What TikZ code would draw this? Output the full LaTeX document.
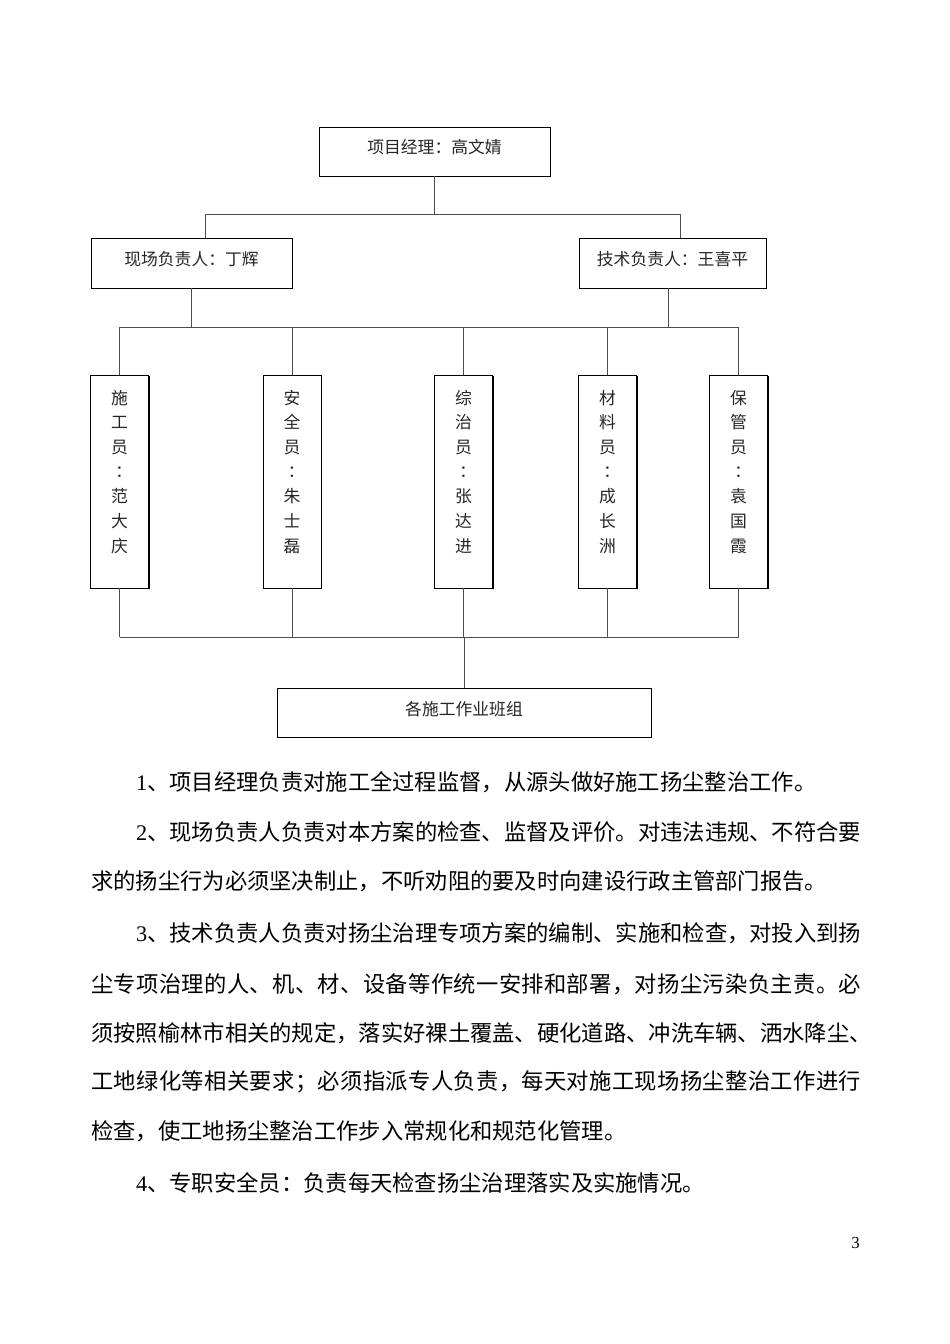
\documentclass[tikz,border=0pt]{standalone}
\usepackage{fontspec}
\setmainfont{Liberation Serif}
\newfontfamily\cjk{Noto Sans CJK SC}
\newfontfamily\cjktc{Noto Sans CJK TC}
\usetikzlibrary{shadows}
\makeatletter
\def\spr@glue{\hskip 0pt plus 1fil minus 1fil\relax}
\def\spreadchars#1{\spr@B#1\relax}
\def\spr@B#1{#1\spr@A}
\def\spr@A#1{\ifx#1\relax\else\spr@glue#1\expandafter\spr@A\fi}
\newcommand\fitline[2]{\hbox to #1pt{\spreadchars{#2}}}
\newcommand\fitlinenum[3]{\hbox to #1pt{{\rmfamily #2}\spr@glue\spreadchars{#3}}}
\makeatother
\begin{document}
\begin{tikzpicture}[x=1pt,y=-1pt,
  box/.style={draw=black, line width=0.9pt, fill=white, inner sep=0pt,
    drop shadow={shadow xshift=1.1pt, shadow yshift=-1.1pt, fill=black, opacity=1},
    font=\cjk\fontsize{16.8}{24.7}\selectfont, text=black!85},
  conn/.style={draw=black!70, line width=0.9pt},
  body/.style={anchor=west, inner sep=0pt, font=\cjk\fontsize{22.3}{22.3}\selectfont, text=black}]
\useasboundingbox (0,0) rectangle (950,1344);
\fill[white] (0,0) rectangle (950,1344);

% top
\node[box, minimum width=231pt, minimum height=49pt] (top) at (434.5,151.5) {\raisebox{10pt}{项目经理：高文婧}};
\node[box, minimum width=201pt, minimum height=50pt] (left) at (191.5,263) {\raisebox{10pt}{现场负责人：丁辉}};
\node[box, minimum width=187pt, minimum height=50pt] (right) at (672.5,263) {\raisebox{10pt}{技术负责人：王喜平}};

% vertical boxes
\foreach \n/\x/\a/\b/\c/\d/\e/\f in {
  v1/119.5/施/工/员/范/大/庆,
  v2/292/安/全/员/朱/士/磊,
  v3/463.5/综/治/员/张/达/进,
  v4/607.5/材/料/员/成/长/洲,
  v5/738.5/保/管/员/袁/国/霞}{
  \node[box, minimum width=58pt, minimum height=213pt] (\n) at (\x,481.5)
    {\raisebox{4pt}[80pt][80pt]{\begin{tabular}{@{}c@{}}\a\\\b\\\c\\{\cjktc ：}\\\d\\\e\\\f\end{tabular}}};
}

\node[box, minimum width=374pt, minimum height=49pt] (bot) at (464,712.5) {\raisebox{9pt}{各施工作业班组}};

% connectors level 1
\coordinate (b1) at (205,214);
\coordinate (b2) at (680,214);
\draw[conn] (top.south) -- (top.south |- b1);
\draw[conn] (left.north -| b1) -- (b1) -- (b2) -- (right.north -| b2);

% connectors level 2
\coordinate (h2L) at (119.5,327);
\coordinate (h2R) at (738.5,327);
\coordinate (lL) at (191,0);
\coordinate (lR) at (668,0);
\draw[conn] (left.south -| lL) -- (h2L -| lL);
\draw[conn] (right.south -| lR) -- (h2L -| lR);
\draw[conn] (h2L) -- (h2R);
\foreach \n in {v1,v2,v3,v4,v5}{
  \draw[conn] (\n.north) -- (\n.north |- h2L);
}

% connectors level 3
\coordinate (h3L) at (119.5,637);
\coordinate (h3R) at (738.5,637);
\foreach \n in {v1,v2,v3,v4,v5}{
  \draw[conn] (\n.south) -- (\n.south |- h3L);
}
\draw[conn] (h3L) -- (h3R);
\draw[conn] (bot.north) -- (bot.north |- h3L);

% body text
\node[body] (p1) at (136,782) {{\rmfamily 1}、项目经理负责对施工全过程监督，从源头做好施工扬尘整治工作。};
\node[body] (p2a) at (136,832) {\fitlinenum{725}{2}{、现场负责人负责对本方案的检查、监督及评价。对违法违规、不符合要}};
\node[body] (p2b) at (91,881) {求的扬尘行为必须坚决制止，不听劝阻的要及时向建设行政主管部门报告。};
\node[body] (p3a) at (136,933) {\fitlinenum{725}{3}{、技术负责人负责对扬尘治理专项方案的编制、实施和检查，对投入到扬}};
\node[body] (p3b) at (91,984) {\fitline{770}{尘专项治理的人、机、材、设备等作统一安排和部署，对扬尘污染负主责。必}};
\node[body] (p3c) at (91,1033) {须按照榆林市相关的规定，落实好裸土覆盖、硬化道路、冲洗车辆、洒水降尘、};
\node[body] (p3d) at (91,1082) {\fitline{770}{工地绿化等相关要求；必须指派专人负责，每天对施工现场扬尘整治工作进行}};
\node[body] (p3e) at (91,1131) {检查，使工地扬尘整治工作步入常规化和规范化管理。};
\node[body] (p4) at (136,1183) {{\rmfamily 4}、专职安全员：负责每天检查扬尘治理落实及实施情况。};

\node[anchor=center, inner sep=0pt, font=\rmfamily\fontsize{16.8}{16.8}\selectfont] (pg) at (855.5,1243) {3};
\end{tikzpicture}
\end{document}
